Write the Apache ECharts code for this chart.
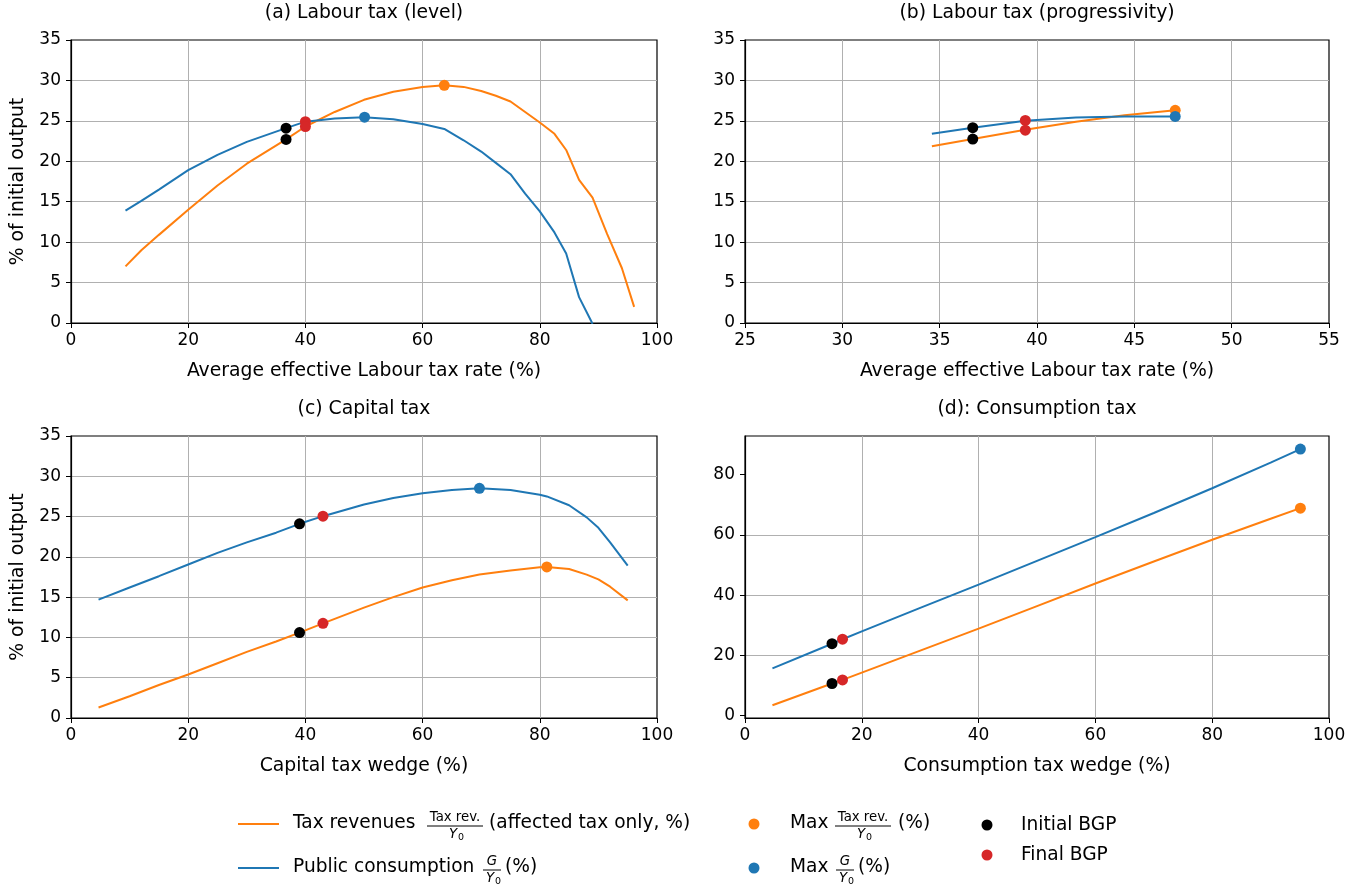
<!DOCTYPE html>
<html>
<head>
<meta charset="utf-8">
<title>Tax Laffer curves</title>
<script src="https://cdn.jsdelivr.net/npm/echarts@6/dist/echarts.min.js"></script>
<style>
  html, body { margin: 0; padding: 0; background: #fff; }
  #chart { width: 1368px; height: 888px; }
</style>
</head>
<body>
<div id="chart"></div>
<script>
// (a) labour tax level
const levelRate = [9.3, 12, 15, 20, 25, 30, 36.7, 40, 45, 50, 55, 60, 63.7, 67, 70, 72.5, 75, 77.5, 80, 82.5, 84.5, 86.7, 89, 91.5, 94, 96.1];
const levelRevenue = [7.0, 9.0, 10.9, 14.0, 17.0, 19.7, 22.7, 24.3, 26.1, 27.6, 28.6, 29.2, 29.4, 29.2, 28.7, 28.1, 27.4, 26.1, 24.8, 23.4, 21.4, 17.7, 15.5, 11.0, 6.8, 2.0];
const levelSpending = [13.9, 15.1, 16.5, 18.9, 20.8, 22.4, 24.1, 24.9, 25.3, 25.45, 25.2, 24.6, 24.0, 22.6, 21.2, 19.8, 18.4, 16.0, 13.8, 11.2, 8.6, 3.2, -0.1];
const levelMaxRevenue = [63.7, 29.4];
const levelMaxSpending = [50.1, 25.45];
const levelInitial = [[36.7, 24.1], [36.7, 22.7]];
const levelFinal = [[40, 24.9], [40, 24.3]];

// (b) labour tax progressivity
const progRate = [34.6, 36.7, 39.4, 42, 44.5, 47.1];
const progRevenue = [21.85, 22.75, 23.9, 24.9, 25.7, 26.3];
const progSpending = [23.4, 24.15, 25.0, 25.4, 25.55, 25.55];
const progMaxRevenue = [47.1, 26.3];
const progMaxSpending = [47.1, 25.55];
const progInitial = [[36.7, 24.15], [36.7, 22.75]];
const progFinal = [[39.4, 25.05], [39.4, 23.85]];

// (c) capital tax
const capitalRate = [4.7, 10, 15, 20, 25, 30, 35, 39, 43, 50, 55, 60, 65, 69.7, 75, 80, 81.2, 85, 88, 90, 92, 95];
const capitalRevenue = [1.3, 2.7, 4.1, 5.4, 6.8, 8.2, 9.5, 10.6, 11.75, 13.7, 15.0, 16.2, 17.1, 17.8, 18.3, 18.7, 18.75, 18.5, 17.8, 17.2, 16.3, 14.6];
const capitalSpending = [14.7, 16.2, 17.6, 19.05, 20.5, 21.8, 23.0, 24.1, 25.05, 26.5, 27.3, 27.9, 28.3, 28.5, 28.3, 27.7, 27.5, 26.4, 24.9, 23.6, 21.8, 18.9];
const capitalMaxRevenue = [81.2, 18.75];
const capitalMaxSpending = [69.7, 28.5];
const capitalInitial = [[39, 24.1], [39, 10.6]];
const capitalFinal = [[43, 25.05], [43, 11.75]];

// (d) consumption tax
const consRate = [4.7, 14.9, 16.7, 20, 30, 40, 50, 60, 70, 80, 90, 95.1];
const consRevenue = [3.5, 10.7, 11.9, 14.3, 21.6, 28.9, 36.4, 43.9, 51.2, 58.4, 65.4, 68.9];
const consSpending = [15.7, 23.9, 25.4, 28.0, 35.8, 43.5, 51.4, 59.3, 67.3, 75.5, 84.0, 88.5];
const consMaxRevenue = [95.1, 68.9];
const consMaxSpending = [95.1, 88.5];
const consInitial = [[14.9, 23.9], [14.9, 10.7]];
const consFinal = [[16.7, 25.4], [16.7, 11.9]];

const consTicks = [0, 20, 40, 60, 80];

const ORANGE = '#ff7f0e';
const BLUE = '#1f77b4';
const RED = '#d62728';
const FONT = 'DejaVu Sans';

function zip(xs, ys) {
  return ys.map((y, i) => [xs[i], y]);
}

function panelSeries(i, rate, revenue, spending, maxRev, maxG, init, fin) {
  const line = (data, color) => ({
    type: 'line', xAxisIndex: i, yAxisIndex: i, data: data,
    showSymbol: false, symbol: 'none', clip: true, z: 3,
    lineStyle: { color: color, width: 2 }, silent: true
  });
  const dots = (data, color, z) => ({
    type: 'scatter', xAxisIndex: i, yAxisIndex: i, data: data,
    symbolSize: 11, itemStyle: { color: color, opacity: 1 }, z: z, silent: true
  });
  return [
    line(zip(rate, revenue), ORANGE),
    line(zip(rate, spending), BLUE),
    dots([maxRev], ORANGE, 4),
    dots([maxG], BLUE, 5),
    dots(init, '#000', 6),
    dots(fin, RED, 7)
  ];
}

const grids = [
  { left: 71, top: 40, width: 586, height: 283 },
  { left: 745, top: 40, width: 584, height: 283 },
  { left: 71, top: 436, width: 586, height: 282 },
  { left: 745, top: 436, width: 584, height: 282 }
].map(g => Object.assign(g, { show: true, borderColor: '#000', borderWidth: 1.2, backgroundColor: 'transparent' }));

const tickText = { color: '#000', fontSize: 17, fontFamily: FONT };
const nameText = { color: '#000', fontSize: 18.8, fontFamily: FONT };

function xAxis(i, min, max, interval, name) {
  return {
    type: 'value', gridIndex: i, min: min, max: max, interval: interval,
    name: name, nameLocation: 'middle', nameGap: 39, nameTextStyle: nameText,
    axisLine: { show: true, onZero: false, lineStyle: { color: '#000', width: 1.2 } },
    axisTick: { show: true, inside: false, length: 5, lineStyle: { color: '#000', width: 1 } },
    axisLabel: Object.assign({ margin: 9 }, tickText),
    splitLine: { show: true, showMinLine: false, showMaxLine: false, lineStyle: { color: '#b0b0b0', width: 1 } }
  };
}

function yAxis(i, min, max, interval, name, ticks) {
  const ax = {
    type: 'value', gridIndex: i, min: min, max: max, interval: interval,
    name: name, nameLocation: 'middle', nameGap: 43, nameTextStyle: nameText,
    axisLine: { show: true, onZero: false, lineStyle: { color: '#000', width: 1.2 } },
    axisTick: { show: true, inside: false, length: 5, lineStyle: { color: '#000', width: 1 } },
    axisLabel: Object.assign({ margin: 10 }, tickText),
    splitLine: { show: true, showMinLine: false, showMaxLine: false, lineStyle: { color: '#b0b0b0', width: 1 } }
  };
  if (ticks) {
    ax.axisTick.customValues = ticks;
    ax.axisLabel.customValues = ticks;
    delete ax.interval;
  }
  return ax;
}

const titleStyle = { color: '#000', fontSize: 18.8, fontWeight: 'normal', fontFamily: FONT };
const titles = [
  { text: '(a) Labour tax (level)', left: 364, top: 4 },
  { text: '(b) Labour tax (progressivity)', left: 1037, top: 4 },
  { text: '(c) Capital tax', left: 364, top: 400 },
  { text: '(d): Consumption tax', left: 1037, top: 400 }
].map(t => Object.assign(t, { textAlign: 'center', padding: 0, textStyle: titleStyle }));

// legend built from graphic elements (matplotlib style, with stacked fractions)
const legendText = { fontSize: 18.6, fontFamily: FONT, fill: '#000', verticalAlign: 'middle' };
function txt(x, y, text, extra) {
  return { type: 'text', x: x, y: y, style: Object.assign({ text: text }, legendText, extra || {}) };
}
function fraction(cx, cy, numer, italicNumer, halfWidth) {
  return [
    txt(cx, cy - 8, numer, { fontSize: 13.3, align: 'center', fontStyle: italicNumer ? 'italic' : 'normal' }),
    { type: 'line', shape: { x1: cx - halfWidth, y1: cy, x2: cx + halfWidth, y2: cy }, style: { stroke: '#000', lineWidth: 1 } },
    txt(cx - 2, cy + 9, 'Y', { fontSize: 13.3, align: 'center', fontStyle: 'italic' }),
    txt(cx + 3, cy + 12, '0', { fontSize: 9.5, align: 'left' })
  ];
}
const legendItems = [
  { type: 'line', shape: { x1: 238, y1: 824, x2: 279, y2: 824 }, style: { stroke: ORANGE, lineWidth: 2 } },
  txt(293, 823, 'Tax revenues'),
  ...fraction(455, 826, 'Tax rev.', false, 28),
  txt(489, 823, '(affected tax only, %)'),
  { type: 'line', shape: { x1: 238, y1: 868, x2: 279, y2: 868 }, style: { stroke: BLUE, lineWidth: 2 } },
  txt(293, 867, 'Public consumption'),
  ...fraction(492, 870, 'G', true, 9),
  txt(505, 867, '(%)'),
  { type: 'circle', shape: { cx: 754, cy: 824, r: 5.5 }, style: { fill: ORANGE } },
  txt(790, 823, 'Max'),
  ...fraction(863, 826, 'Tax rev.', false, 28),
  txt(898, 823, '(%)'),
  { type: 'circle', shape: { cx: 754, cy: 868, r: 5.5 }, style: { fill: BLUE } },
  txt(790, 867, 'Max'),
  ...fraction(845, 870, 'G', true, 9),
  txt(858, 867, '(%)'),
  { type: 'circle', shape: { cx: 987, cy: 825, r: 5.5 }, style: { fill: '#000' } },
  txt(1021, 825, 'Initial BGP'),
  { type: 'circle', shape: { cx: 987, cy: 855, r: 5.5 }, style: { fill: RED } },
  txt(1021, 855, 'Final BGP')
];

const chart = echarts.init(document.getElementById('chart'), null, { renderer: 'canvas' });
chart.setOption({
  animation: false,
  backgroundColor: '#fff',
  title: titles,
  grid: grids,
  xAxis: [
    xAxis(0, 0, 100, 20, 'Average effective Labour tax rate (%)'),
    xAxis(1, 25, 55, 5, 'Average effective Labour tax rate (%)'),
    xAxis(2, 0, 100, 20, 'Capital tax wedge (%)'),
    xAxis(3, 0, 100, 20, 'Consumption tax wedge (%)')
  ],
  yAxis: [
    yAxis(0, 0, 35, 5, '% of initial output'),
    yAxis(1, 0, 35, 5, ''),
    yAxis(2, 0, 35, 5, '% of initial output'),
    yAxis(3, -0.75, 92.85, 20, '', consTicks)
  ],
  series: [
    ...panelSeries(0, levelRate, levelRevenue, levelSpending, levelMaxRevenue, levelMaxSpending, levelInitial, levelFinal),
    ...panelSeries(1, progRate, progRevenue, progSpending, progMaxRevenue, progMaxSpending, progInitial, progFinal),
    ...panelSeries(2, capitalRate, capitalRevenue, capitalSpending, capitalMaxRevenue, capitalMaxSpending, capitalInitial, capitalFinal),
    ...panelSeries(3, consRate, consRevenue, consSpending, consMaxRevenue, consMaxSpending, consInitial, consFinal)
  ],
  graphic: legendItems
});
</script>
</body>
</html>
